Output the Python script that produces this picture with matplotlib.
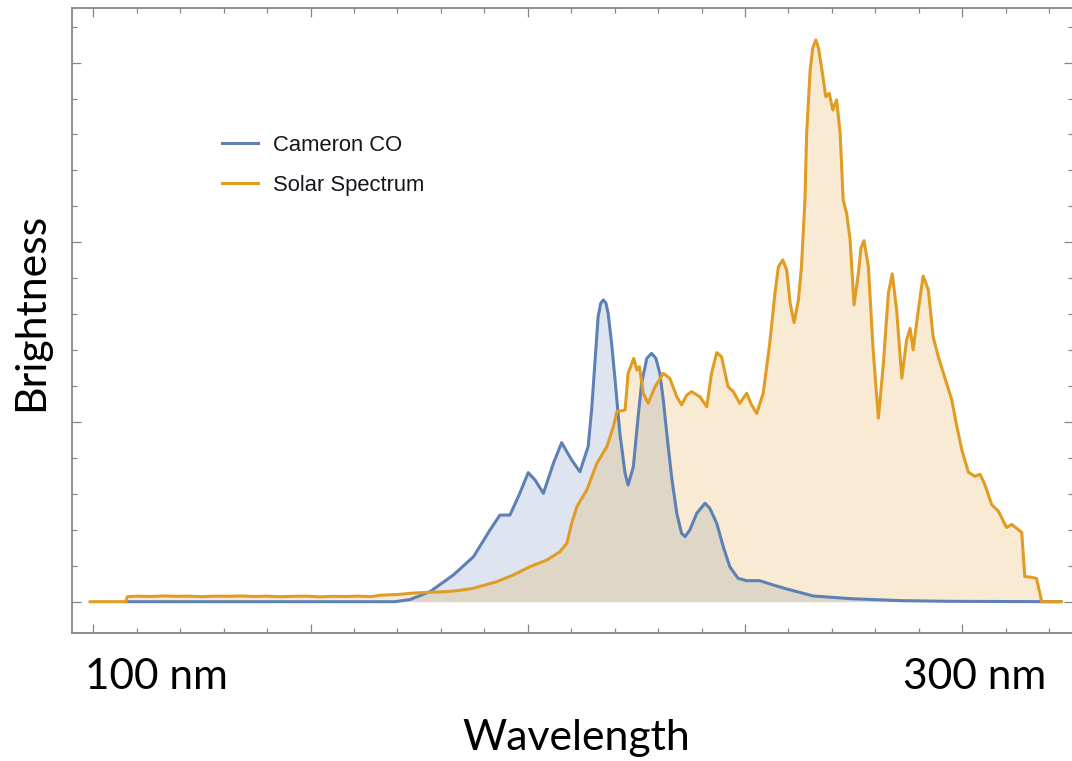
import matplotlib
matplotlib.use("Agg")
import matplotlib.pyplot as plt
from matplotlib.lines import Line2D
from matplotlib.ticker import MultipleLocator, NullFormatter

# Wavelength (nm) and relative brightness of the Cameron CO band system
cameron_nm = [107.5, 169.4, 172.9, 177.5, 182.9, 187.5, 191.3, 193.6, 195.9, 198.2,
              200.1, 201.7, 203.6, 205.9, 207.8, 210.1, 212.0, 213.9, 214.7, 215.5,
              216.2, 216.8, 217.4, 218.0, 218.5, 219.3, 220.1, 221.2, 222.4, 223.1,
              224.3, 225.4, 226.2, 227.4, 228.5, 229.5, 230.4, 231.2, 232.0, 233.1,
              234.3, 235.4, 236.2, 237.3, 238.9, 240.8, 241.9, 243.5, 245.0, 246.5,
              248.4, 250.4, 253.4, 256.5, 259.6, 265.7, 274.2, 285.7, 297.2, 322.9]
cameron_val = [0.0, 0.0, 0.012, 0.056, 0.149, 0.250, 0.399, 0.482, 0.482, 0.605,
               0.718, 0.677, 0.603, 0.770, 0.885, 0.789, 0.723, 0.863, 1.067, 1.345,
               1.586, 1.661, 1.679, 1.661, 1.605, 1.438, 1.234, 0.937, 0.715, 0.649,
               0.751, 1.029, 1.215, 1.354, 1.382, 1.354, 1.271, 1.122, 0.937, 0.696,
               0.492, 0.381, 0.362, 0.399, 0.492, 0.548, 0.520, 0.436, 0.306, 0.195,
               0.130, 0.117, 0.117, 0.093, 0.071, 0.032, 0.017, 0.006, 0.002, 0.0]

# Wavelength (nm) and relative brightness of the solar spectrum
solar_nm = [99.2, 107.5, 107.8, 110.0, 113.0, 116.0, 119.0, 122.0, 125.0, 128.0,
            131.0, 134.0, 137.0, 140.0, 143.0, 146.0, 149.0, 152.0, 155.0, 158.0,
            161.0, 164.0, 166.0, 170.0, 173.6, 177.0, 181.3, 184.0, 187.5, 192.8,
            196.7, 200.5, 204.4, 207.4, 209.0, 210.1, 211.3, 213.6, 215.9, 218.2,
            219.7, 220.5, 222.4, 223.1, 224.4, 225.1, 225.7, 226.6, 227.7, 229.3,
            231.2, 232.7, 234.3, 235.4, 236.6, 237.7, 239.6, 241.2, 242.3, 243.5,
            244.6, 246.1, 247.3, 248.8, 250.4, 251.5, 252.7, 254.2, 255.0, 255.7,
            256.9, 257.7, 258.7, 259.6, 260.4, 261.3, 262.3, 263.0, 263.8, 264.2,
            265.0, 265.6, 266.3, 266.9, 267.6, 268.6, 269.4, 270.2, 271.1, 271.9,
            272.6, 273.4, 274.2, 275.1, 276.1, 276.7, 277.4, 278.4, 279.5, 280.7,
            281.8, 283.0, 283.9, 284.9, 286.1, 287.2, 288.0, 288.7, 289.9, 291.0,
            292.2, 293.3, 294.5, 296.4, 297.6, 298.7, 299.9, 301.4, 302.9, 304.1,
            305.2, 306.8, 308.3, 310.2, 311.4, 313.7, 314.4, 316.0, 317.1, 318.3,
            322.9]
solar_val = [0.0, 0.0, 0.027, 0.031, 0.029, 0.032, 0.030, 0.031, 0.028, 0.031,
             0.030, 0.032, 0.029, 0.031, 0.028, 0.030, 0.031, 0.027, 0.030, 0.029,
             0.031, 0.028, 0.036, 0.040, 0.048, 0.052, 0.056, 0.062, 0.075, 0.111,
             0.149, 0.195, 0.232, 0.278, 0.325, 0.436, 0.529, 0.622, 0.770, 0.863,
             0.974, 1.057, 1.067, 1.271, 1.354, 1.289, 1.308, 1.160, 1.104, 1.196,
             1.271, 1.243, 1.141, 1.095, 1.150, 1.169, 1.141, 1.085, 1.271, 1.386,
             1.363, 1.196, 1.169, 1.104, 1.160, 1.095, 1.048, 1.160, 1.308, 1.438,
             1.716, 1.864, 1.902, 1.846, 1.661, 1.553, 1.679, 1.864, 2.235, 2.607,
             2.959, 3.081, 3.126, 3.081, 2.977, 2.810, 2.829, 2.736, 2.792, 2.607,
             2.235, 2.161, 2.013, 1.651, 1.828, 1.968, 2.009, 1.864, 1.401, 1.021,
             1.308, 1.716, 1.824, 1.623, 1.243, 1.456, 1.521, 1.401, 1.623, 1.812,
             1.735, 1.475, 1.363, 1.215, 1.122, 0.983, 0.846, 0.721, 0.698, 0.709,
             0.652, 0.539, 0.505, 0.413, 0.430, 0.386, 0.140, 0.136, 0.129, 0.0,
             0.0]

series_labels = ["Cameron CO", "Solar Spectrum"]
x_labels = ["100 nm", "300 nm"]
x_title = "Wavelength"
y_title = "Brightness"

BLUE = "#5E81B5"
ORANGE = "#E19C24"
FRAME = "#868686"

W, H = 1072, 761
fig = plt.figure(figsize=(W / 100, H / 100), dpi=100)
fig.patch.set_facecolor("white")

# axes box in pixels: left 71.7, right 1073, top 8.3, bottom 632.7
ax = fig.add_axes([71.7 / W, 1 - 632.7 / H, (1073 - 71.7) / W, (632.7 - 8.3) / H])
ax.set_xlim(95.03, 325.5)
ax.set_ylim(-0.1725, 3.302)

ax.fill_between(cameron_nm, cameron_val, 0, color=BLUE, alpha=0.2, linewidth=0, zorder=1)
ax.fill_between(solar_nm, solar_val, 0, color=ORANGE, alpha=0.2, linewidth=0, zorder=2)
ax.plot(cameron_nm, cameron_val, color=BLUE, lw=2.2, solid_joinstyle="round",
        solid_capstyle="round", zorder=3)
ax.plot(solar_nm, solar_val, color=ORANGE, lw=2.2, solid_joinstyle="round",
        solid_capstyle="round", zorder=4)

ax.xaxis.set_major_locator(MultipleLocator(50))
ax.xaxis.set_minor_locator(MultipleLocator(10))
ax.yaxis.set_major_locator(MultipleLocator(1))
ax.yaxis.set_minor_locator(MultipleLocator(0.2))
ax.xaxis.set_major_formatter(NullFormatter())
ax.yaxis.set_major_formatter(NullFormatter())
ax.tick_params(which="both", direction="in", top=True, right=True,
               color=FRAME, width=0.9)
ax.tick_params(which="major", length=6.3)
ax.tick_params(which="minor", length=3.9)
for s in ax.spines.values():
    s.set_color(FRAME)
    s.set_linewidth(1.3)

# legend drawn in figure pixel space
def fx(px):
    return px / W

def fy(py):
    return 1 - py / H

for py, col, lab, base in [(142.7, BLUE, series_labels[0], 150.7),
                           (182.7, ORANGE, series_labels[1], 190.7)]:
    fig.add_artist(Line2D([fx(221.7), fx(258.3)], [fy(py), fy(py)],
                          color=col, lw=2.2, transform=fig.transFigure))
    fig.text(fx(273.3), fy(base), lab, fontsize=15.8, family="Liberation Sans",
             color="#15151c", ha="left", va="baseline")

fig.canvas.draw()
renderer = fig.canvas.get_renderer()

def fitted_text(x, y, s, target_len, rotation=0, **kw):
    t = fig.text(x, y, s, fontsize=30, family="Lato", color="black",
                 rotation=rotation, **kw)
    bb = t.get_window_extent(renderer)
    cur = bb.height if rotation else bb.width
    t.set_fontsize(30 * target_len / cur)
    return t

fitted_text(fx(85), fy(689), x_labels[0], 143, ha="left", va="baseline")
fitted_text(fx(903.3), fy(689), x_labels[1], 143.4, ha="left", va="baseline")
fitted_text(fx(576), fy(750), x_title, 228, ha="center", va="baseline")
fitted_text(fx(31.5), fy(312), y_title, 198, rotation=90, ha="center", va="center")

fig.savefig("out.png", dpi=100, facecolor="white")
